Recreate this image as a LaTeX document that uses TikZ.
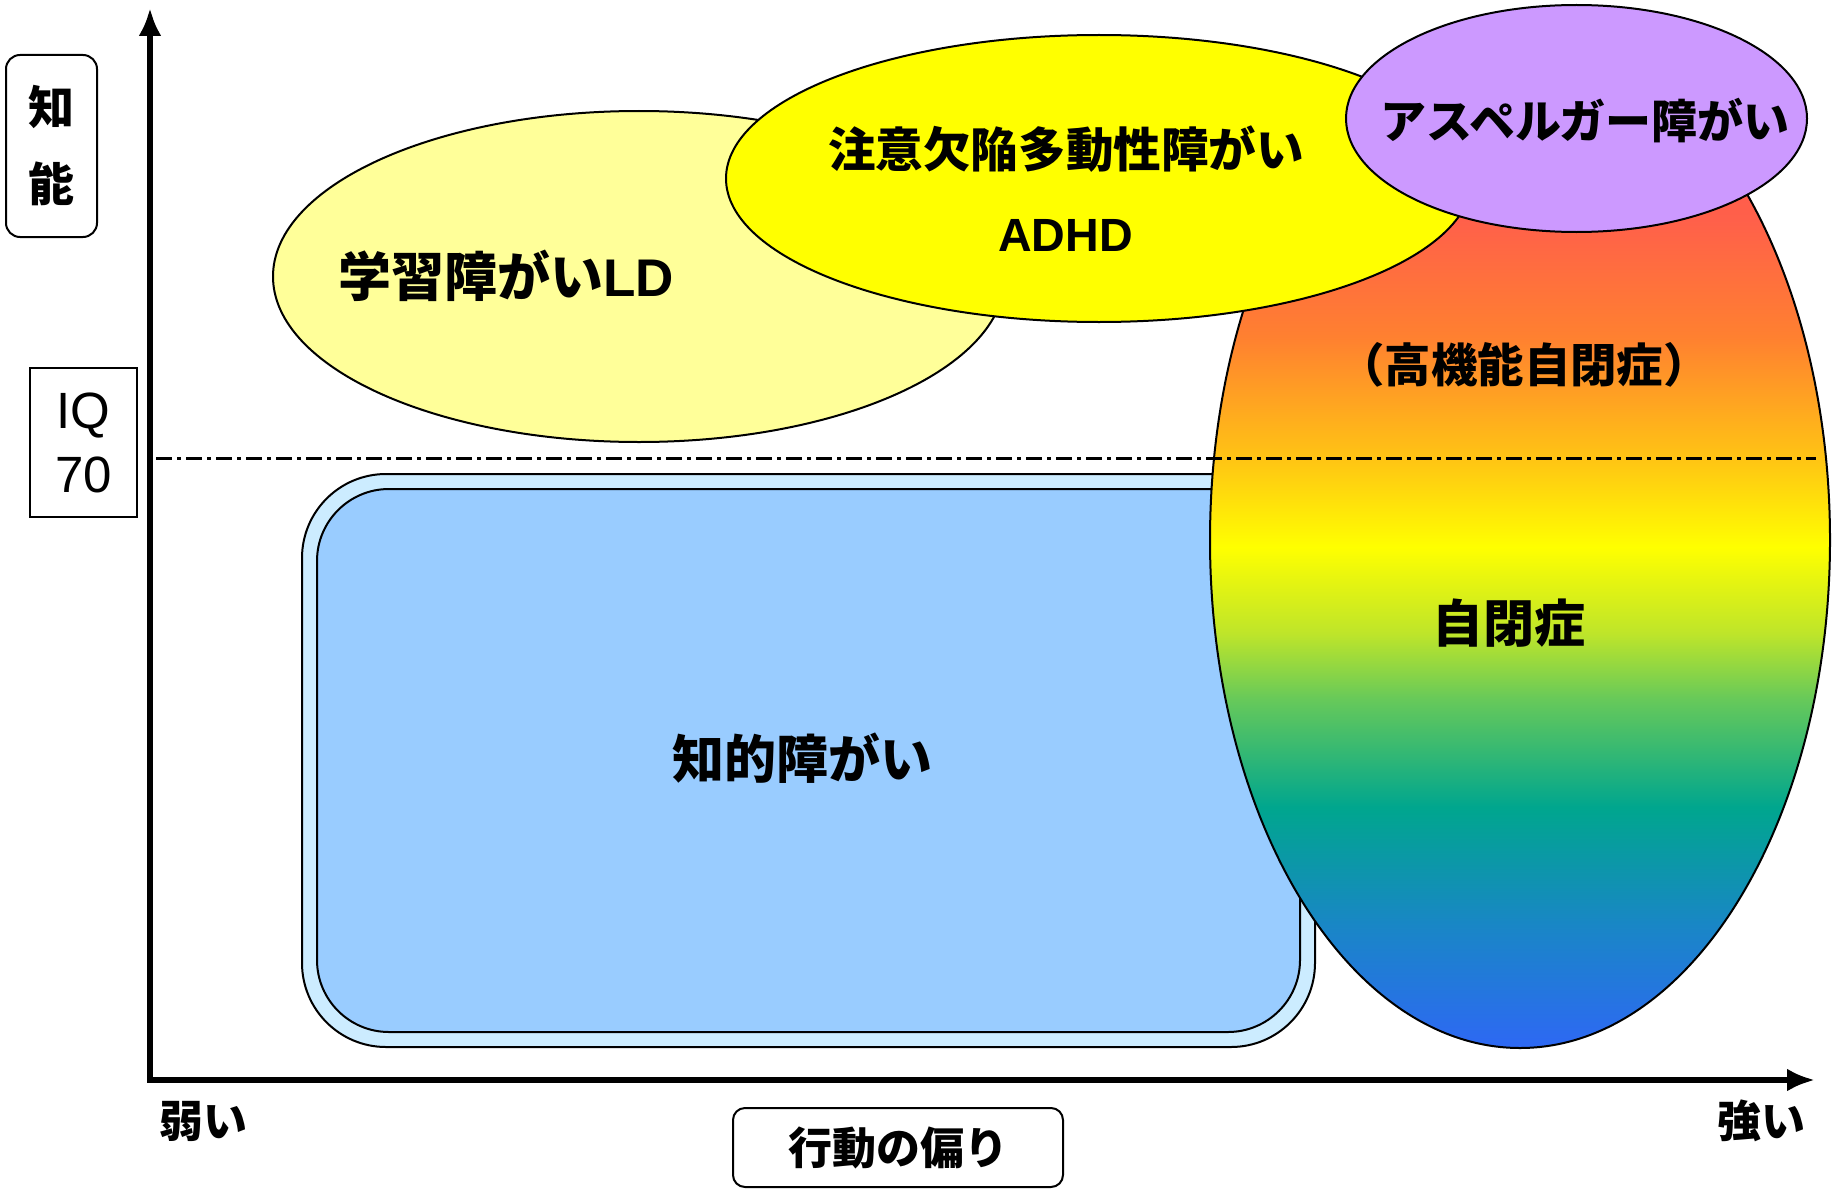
\documentclass[tikz,border=0pt]{standalone}
\usepackage{fontspec}
\newfontfamily\jp{Noto Sans CJK JP}
\newfontfamily\ar{Liberation Sans}
\usetikzlibrary{arrows.meta}
\definecolor{ldfill}{HTML}{FFFF99}
\definecolor{adhdfill}{HTML}{FFFF00}
\definecolor{aspfill}{HTML}{CC99FF}
\definecolor{idouter}{HTML}{CCECFF}
\definecolor{idinner}{HTML}{99CCFF}
\definecolor{rbA}{HTML}{2E68F4}
\definecolor{rbB}{HTML}{1A85C8}
\definecolor{rbC}{HTML}{00A68E}
\definecolor{rbD}{HTML}{66C95A}
\definecolor{rbE}{HTML}{BEE52A}
\definecolor{rbF}{HTML}{FFFF00}
\definecolor{rbG}{HTML}{FFC414}
\definecolor{rbH}{HTML}{FF8030}
\definecolor{rbI}{HTML}{FF604A}
\definecolor{rbJ}{HTML}{FF5050}
\pgfdeclareverticalshading{rainbowfill}{100bp}{color(0bp)=(rbA); color(25bp)=(rbA); color(30.8bp)=(rbB); color(36.85bp)=(rbC); color(42.15bp)=(rbD); color(45.4bp)=(rbE); color(49.65bp)=(rbF); color(54bp)=(rbG); color(60bp)=(rbH); color(65.75bp)=(rbI); color(75bp)=(rbJ); color(100bp)=(rbJ)}
\newcommand\fsz[1]{\fontsize{#1pt}{#1pt}\selectfont}
\tikzset{
  outline/.style={draw=black, line width=1pt},
  lbl/.style={inner sep=0pt, font=\jp\bfseries},
}
\begin{document}
\begin{tikzpicture}[x=0.5pt,y=-0.5pt]
\useasboundingbox (0,0) rectangle (1835,1188);
% shapes
\draw[outline, fill=ldfill] (639,276.5) ellipse [x radius=183pt, y radius=82.75pt];
\draw[outline, fill=idouter, rounded corners=42pt] (302,474) rectangle (1315,1047);
\draw[outline, fill=idinner, rounded corners=36pt] (317,489) rectangle (1300,1032);
\shade[shading=rainbowfill, draw=black, line width=1pt] (1520,540) ellipse [x radius=155pt, y radius=254pt];
\draw[outline, fill=adhdfill] (1099,178.5) ellipse [x radius=186.5pt, y radius=71.75pt];
\draw[outline, fill=aspfill] (1576.5,118.5) ellipse [x radius=115.25pt, y radius=56.75pt];
% IQ 70 threshold
\coordinate (thL) at (156,458);
\coordinate (thR) at (1816,458);
\draw[line width=1.5pt, dash pattern=on 8pt off 2.5pt on 2pt off 2.5pt] (thL) -- (thR);
% axes
\coordinate (ytop) at (150,8);
\coordinate (orig) at (150,1080);
\coordinate (xend) at (1815,1080);
\draw[line width=3pt, line join=miter, {Latex[length=14pt,width=11.5pt]}-{Latex[length=14pt,width=11.5pt]}] (ytop) -- (orig) -- (xend);
% labels in shapes
\node[lbl, font=\jp\bfseries\fsz{26.5}] (ld) at (506,276) {学習障がい{\ar LD}};
\node[lbl, font=\jp\bfseries\fsz{23.8}] (adhdjp) at (1066,149) {注意欠陥多動性障がい};
\node[lbl, font=\ar\bfseries\fsz{23.3}] (adhd) at (1065.5,235) {ADHD};
\node[lbl, font=\jp\bfseries\fsz{23}] (asp) at (1585,121) {アスペルガー障がい};
\node[lbl, font=\jp\bfseries\fsz{23.2}] (hfa) at (1524,365) {（高機能自閉症）};
\node[lbl, font=\jp\bfseries\fsz{25.5}] (aut) at (1509,623) {自閉症};
\node[lbl, font=\jp\bfseries\fsz{26}] (id) at (802.5,758) {知的障がい};
% axis labels
\node[outline, rounded corners=7pt, minimum width=45.5pt, minimum height=91pt, inner sep=0pt, align=center,
      font=\jp\bfseries\fontsize{23pt}{38.5pt}\selectfont] (chino) at (51.5,146) {知\\能};
\node[draw=black, line width=1pt, minimum width=53.5pt, minimum height=74.5pt, inner sep=0pt, align=center,
      font=\ar\fontsize{25.5pt}{32pt}\selectfont] (iq) at (83.5,442.5) {IQ\\70};
\node[lbl, font=\jp\bfseries\fsz{22}] (weak) at (203,1121) {弱い};
\node[lbl, font=\jp\bfseries\fsz{22}] (strong) at (1761,1121) {強い};
\node[outline, rounded corners=6pt, minimum width=165pt, minimum height=39.5pt, inner sep=0pt,
      font=\jp\bfseries\fsz{22}] (bias) at (898,1147.5) {行動の偏り};
\end{tikzpicture}
\end{document}
